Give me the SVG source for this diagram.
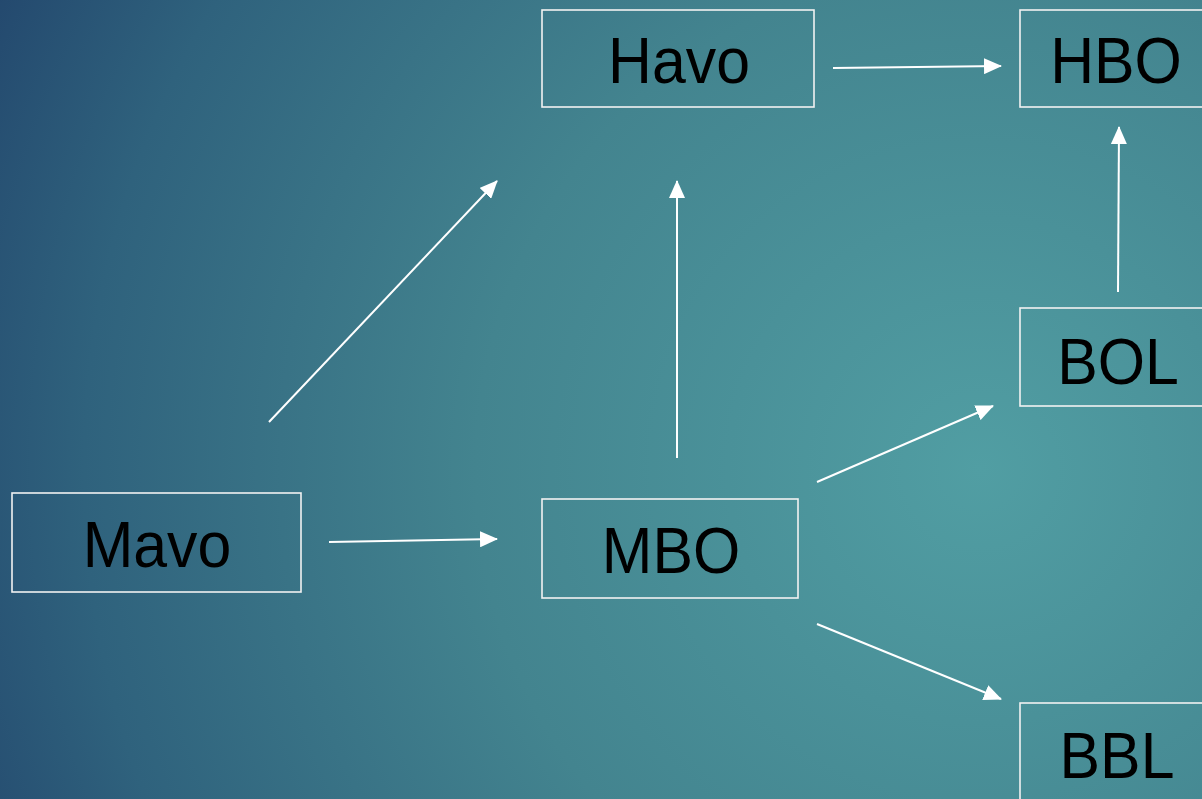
<svg xmlns="http://www.w3.org/2000/svg" width="1202" height="799" viewBox="0 0 1202 799">
<defs>
<radialGradient id="bg" gradientUnits="userSpaceOnUse" cx="980" cy="470" r="1120">
<stop offset="0" stop-color="#519ea3"/>
<stop offset="0.45" stop-color="#43848f"/>
<stop offset="0.8" stop-color="#2f627d"/>
<stop offset="1" stop-color="#22456c"/>
</radialGradient>
<marker id="arr" markerUnits="userSpaceOnUse" markerWidth="18" markerHeight="16" viewBox="0 0 18 16" refX="17" refY="8" orient="auto">
<path d="M0,0 L18,8 L0,16 Z" fill="#ffffff"/>
</marker>
<style>
.box{fill:none;stroke:#f2f2f2;stroke-width:1.6}
.lbl{font-family:"Liberation Sans",Arial,sans-serif;font-size:65px;fill:#000;text-anchor:middle}
.con{stroke:#ffffff;stroke-width:2;fill:none;marker-end:url(#arr)}
</style>
</defs>
<rect x="0" y="0" width="1202" height="799" fill="url(#bg)"/>
<g id="connectors">
<line class="con" x1="833" y1="68" x2="1001" y2="66"/>
<line class="con" x1="269" y1="422" x2="497" y2="181"/>
<line class="con" x1="677" y1="458" x2="677" y2="181"/>
<line class="con" x1="1118" y1="292" x2="1119" y2="127"/>
<line class="con" x1="329" y1="542" x2="497" y2="539"/>
<line class="con" x1="817" y1="482" x2="993" y2="406"/>
<line class="con" x1="817" y1="624" x2="1001" y2="699"/>
</g>
<g id="havo"><rect class="box" x="542" y="10" width="272" height="97"/><text class="lbl" transform="translate(679 83) scale(0.935 1)">Havo</text></g>
<g id="hbo"><rect class="box" x="1020" y="10" width="196" height="97"/><text class="lbl" transform="translate(1116 83) scale(0.935 1)">HBO</text></g>
<g id="bol"><rect class="box" x="1020" y="308" width="196" height="98"/><text class="lbl" transform="translate(1118 384) scale(0.935 1)">BOL</text></g>
<g id="bbl"><rect class="box" x="1020" y="703" width="196" height="110"/><text class="lbl" transform="translate(1117 778) scale(0.935 1)">BBL</text></g>
<g id="mavo"><rect class="box" x="12" y="493" width="289" height="99"/><text class="lbl" transform="translate(157 567) scale(0.935 1)">Mavo</text></g>
<g id="mbo"><rect class="box" x="542" y="499" width="256" height="99"/><text class="lbl" transform="translate(671 573) scale(0.935 1)">MBO</text></g>
</svg>
